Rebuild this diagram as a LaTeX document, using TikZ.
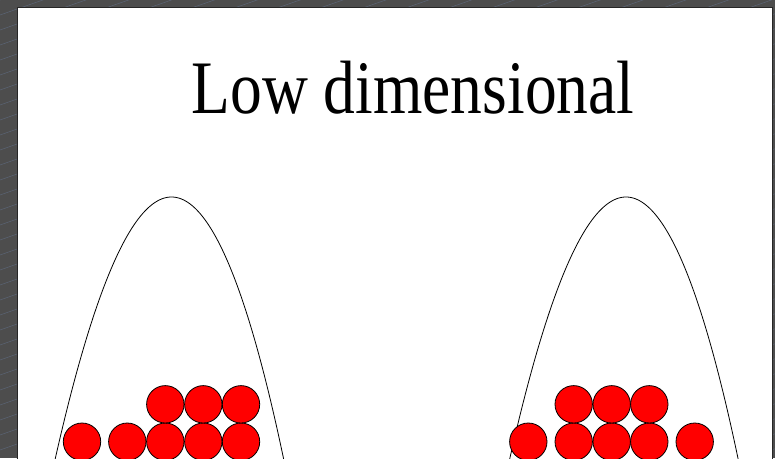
\documentclass[tikz,border=0pt]{standalone}
\usepackage{graphicx}
\usepackage{fontspec}
\setmainfont{Liberation Serif}
\definecolor{bggray}{HTML}{4D4D4D}
\definecolor{stripe}{HTML}{5B6577}
\definecolor{ballred}{HTML}{FF0000}
\tikzset{
  ball/.style={circle, fill=ballred, draw=black, line width=0.8pt, minimum size=37.4pt, inner sep=0pt},
  well/.style={draw=black, line width=0.8pt},
}
\begin{document}
\begin{tikzpicture}[x=1pt, y=-1pt]
\useasboundingbox (0,0) rectangle (775,458);
\clip (0,0) rectangle (775,458);
% background
\fill[bggray] (0,0) rectangle (775,458);
\foreach \i in {-5,...,80}{
  \draw[stripe, line width=0.5pt] (0,{15*\i}) -- (775,{15*\i-0.35*775});
}
% slide
\draw[fill=white, draw=black!85, line width=1.3pt] (17.3,7.3) rectangle (772.7,480);
% title
\node[anchor=base, inner sep=0pt] (title) at (413,113.7)
  {\scalebox{1}[1.19]{\fontsize{63.5}{70}\selectfont Low dimensional}};
% wells
\draw[well] plot[domain=-125:125, samples=151, smooth, variable=\t]
  ({171.5+\t-0.008*\t*\t/49.8},{197+\t*\t/49.8});
\draw[well] plot[domain=-125:125, samples=151, smooth, variable=\t]
  ({626+\t-0.008*\t*\t/49.8},{197+\t*\t/49.8});
% left group
\node[ball] (l1) at (82,441.7) {};
\node[ball] (l2) at (127.3,441.7) {};
\node[ball] (l3) at (165.3,441.7) {};
\node[ball] (l4) at (203.3,441.7) {};
\node[ball] (l5) at (241,441.7) {};
\node[ball] (l6) at (165.3,404.3) {};
\node[ball] (l7) at (203.3,404.3) {};
\node[ball] (l8) at (241,404.3) {};
% right group
\node[ball] (r1) at (528.3,441.7) {};
\node[ball] (r2) at (573.7,441.7) {};
\node[ball] (r3) at (611.7,441.7) {};
\node[ball] (r4) at (649.3,441.7) {};
\node[ball] (r5) at (694.7,441.7) {};
\node[ball] (r6) at (573.7,404.3) {};
\node[ball] (r7) at (611.7,404.3) {};
\node[ball] (r8) at (649.3,404.3) {};
\end{tikzpicture}
\end{document}
